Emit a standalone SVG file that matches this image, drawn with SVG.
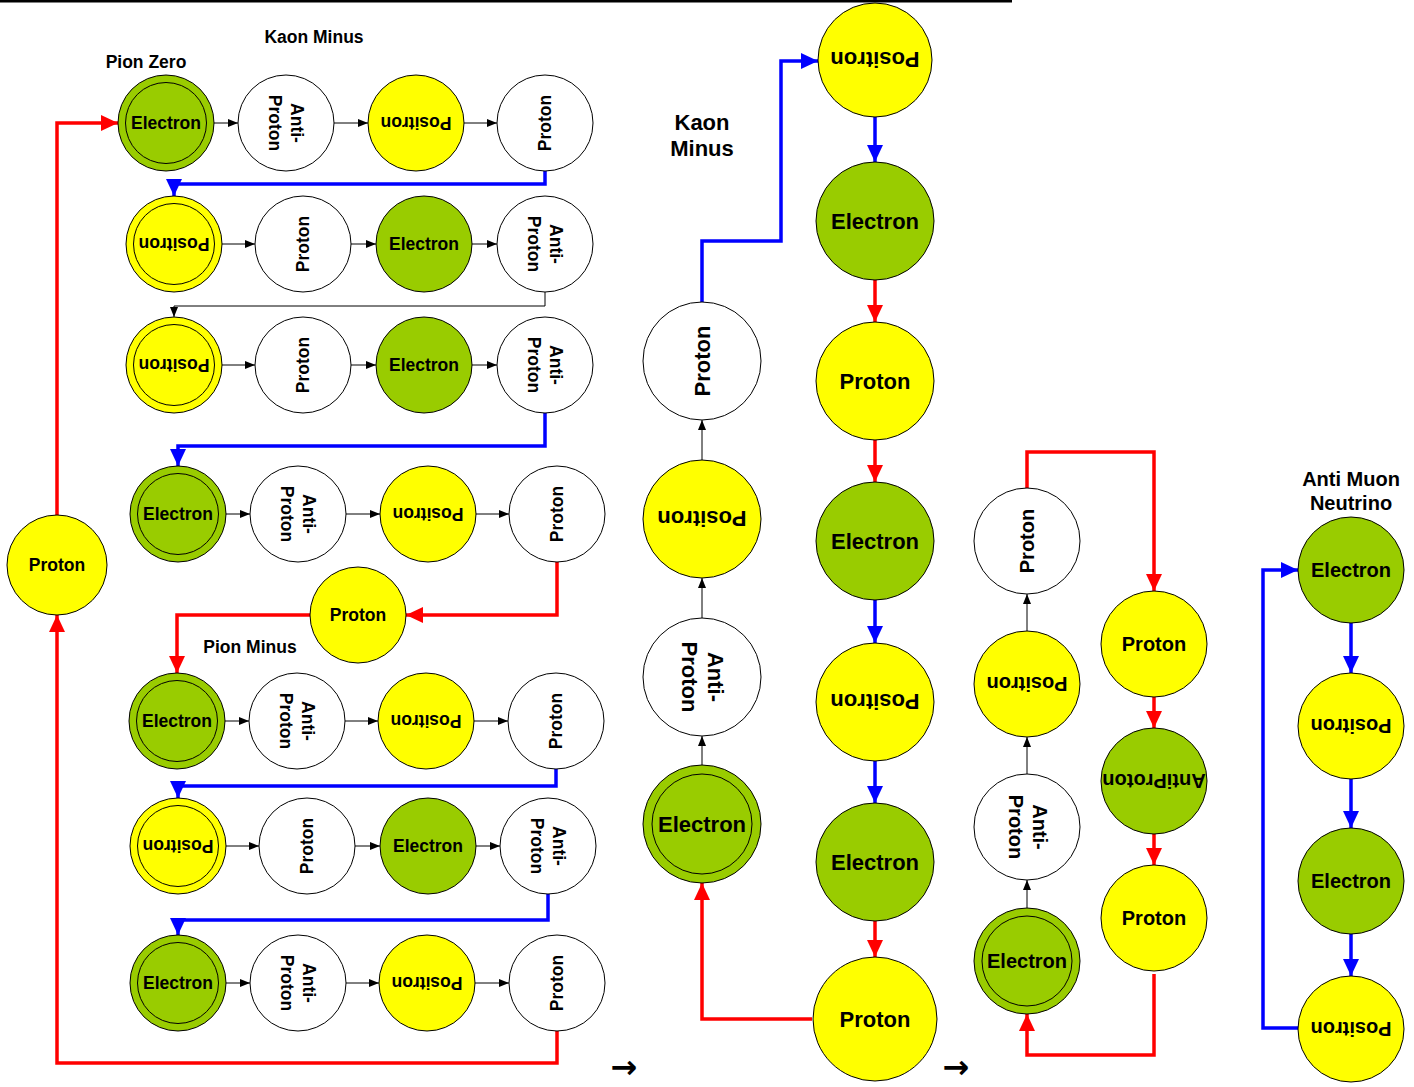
<svg xmlns="http://www.w3.org/2000/svg" width="1414" height="1087" viewBox="0 0 1414 1087">
<style>
text{font-family:"Liberation Sans",Arial,sans-serif;font-weight:bold;fill:#000;text-anchor:middle}
.g{fill:#99CC00;stroke:#000;stroke-width:1}
.y{fill:#FFFF00;stroke:#000;stroke-width:1}
.w{fill:#fff;stroke:#000;stroke-width:1}
.in{fill:none;stroke:#000;stroke-width:1}
.s{font-size:17.5px}
.m{font-size:20px}
.l{font-size:22px}
.ar{font-family:"DejaVu Sans",sans-serif;font-weight:bold;font-size:32px}
.k{fill:none;stroke:#000;stroke-width:1;marker-end:url(#ab)}
.r{fill:none;stroke:#FF0000;stroke-width:3.5;marker-end:url(#ar)}
.b{fill:none;stroke:#0000FF;stroke-width:3.5;marker-end:url(#au)}
</style>
<defs>
<marker id="ab" markerUnits="userSpaceOnUse" markerWidth="10" markerHeight="10" refX="10" refY="5" orient="auto"><path d="M0,1 L10,5 L0,9 z" fill="#000"/></marker>
<marker id="ar" markerUnits="userSpaceOnUse" markerWidth="17" markerHeight="16" refX="17" refY="8" orient="auto"><path d="M0,0 L17,8 L0,16 z" fill="#FF0000"/></marker>
<marker id="au" markerUnits="userSpaceOnUse" markerWidth="17" markerHeight="16" refX="17" refY="8" orient="auto"><path d="M0,0 L17,8 L0,16 z" fill="#0000FF"/></marker>
</defs>
<rect x="0" y="0" width="1012" height="2.5" fill="#000"/>

<g id="labels">
<text class="s" x="314" y="43">Kaon Minus</text>
<text class="s" x="146" y="68">Pion Zero</text>
<text class="s" x="250" y="653">Pion Minus</text>
<text class="l" x="702" y="130">Kaon</text>
<text class="l" x="702" y="156">Minus</text>
<text class="m" x="1351" y="486">Anti Muon</text>
<text class="m" x="1351" y="510">Neutrino</text>
<text class="ar" x="624" y="1078">→</text>
<text class="ar" x="956" y="1078">→</text>
</g>

<g id="connectors">
<path class="k" d="M214,123H238"/><path class="k" d="M334,123H368"/><path class="k" d="M464,123H497"/>
<path class="k" d="M222,244H255"/><path class="k" d="M351,244H376"/><path class="k" d="M472,244H497"/>
<path class="k" d="M222,365H255"/><path class="k" d="M351,365H376"/><path class="k" d="M472,365H497"/>
<path class="k" d="M226,514H250"/><path class="k" d="M346,514H380"/><path class="k" d="M476,514H509"/>
<path class="k" d="M225,721H249"/><path class="k" d="M345,721H378"/><path class="k" d="M474,721H508"/>
<path class="k" d="M226,846H259"/><path class="k" d="M355,846H380"/><path class="k" d="M476,846H500"/>
<path class="k" d="M226,983H250"/><path class="k" d="M346,983H379"/><path class="k" d="M475,983H509"/>
<path class="r" d="M57,515V123H118"/>
<path class="b" d="M545,171V184H174V196"/>
<path class="k" d="M545,292V306H174V317"/>
<path class="b" d="M545,413V446H178V466"/>
<path class="r" d="M557,562V615H406"/>
<path class="r" d="M310,615H177V673"/>
<path class="b" d="M556,769V786H178V798"/>
<path class="b" d="M548,894V920H178V935"/>
<path class="r" d="M557,1031V1063H57V615"/>
<path class="k" d="M702,766V736"/>
<path class="k" d="M702,618V578"/>
<path class="k" d="M702,460V420"/>
<path class="b" d="M702,302V241H781V61H818"/>
<path class="r" d="M812,1019H702V883"/>
<path class="b" d="M875,117V162"/>
<path class="r" d="M875,280V322"/>
<path class="r" d="M875,440V482"/>
<path class="b" d="M875,600V643"/>
<path class="b" d="M875,761V803"/>
<path class="r" d="M875,921V957"/>
<path class="k" d="M1027,908V880"/>
<path class="k" d="M1027,774V737"/>
<path class="k" d="M1027,631V594"/>
<path class="r" d="M1027,488V452H1154V591"/>
<path class="r" d="M1154,697V728"/>
<path class="r" d="M1154,834V865"/>
<path class="r" d="M1154,974V1055H1027V1014"/>
<path class="b" d="M1351,623V673"/>
<path class="b" d="M1351,779V828"/>
<path class="b" d="M1351,934V976"/>
<path class="b" d="M1298,1028H1263V570H1298"/>
</g>

<g id="r1a"><circle class="g" cx="166" cy="123" r="48"/><circle class="in" cx="166" cy="123" r="40.5"/><text class="s" x="166" y="129">Electron</text></g>
<g id="r1b"><circle class="w" cx="286" cy="123" r="48"/><text class="s" transform="translate(286,123) rotate(90)"><tspan x="0" y="-5">Anti-</tspan><tspan x="0" y="17">Proton</tspan></text></g>
<g id="r1c"><circle class="y" cx="416" cy="123" r="48"/><text class="s" transform="translate(416,123) rotate(180)" y="6">Positron</text></g>
<g id="r1d"><circle class="w" cx="545" cy="123" r="48"/><text class="s" transform="translate(545,123) rotate(-90)" y="6">Proton</text></g>
<g id="r2a"><circle class="y" cx="174" cy="244" r="48"/><circle class="in" cx="174" cy="244" r="40.5"/><text class="s" transform="translate(174,244) rotate(180)" y="6">Positron</text></g>
<g id="r2b"><circle class="w" cx="303" cy="244" r="48"/><text class="s" transform="translate(303,244) rotate(-90)" y="6">Proton</text></g>
<g id="r2c"><circle class="g" cx="424" cy="244" r="48"/><text class="s" x="424" y="250">Electron</text></g>
<g id="r2d"><circle class="w" cx="545" cy="244" r="48"/><text class="s" transform="translate(545,244) rotate(90)"><tspan x="0" y="-5">Anti-</tspan><tspan x="0" y="17">Proton</tspan></text></g>
<g id="r3a"><circle class="y" cx="174" cy="365" r="48"/><circle class="in" cx="174" cy="365" r="40.5"/><text class="s" transform="translate(174,365) rotate(180)" y="6">Positron</text></g>
<g id="r3b"><circle class="w" cx="303" cy="365" r="48"/><text class="s" transform="translate(303,365) rotate(-90)" y="6">Proton</text></g>
<g id="r3c"><circle class="g" cx="424" cy="365" r="48"/><text class="s" x="424" y="371">Electron</text></g>
<g id="r3d"><circle class="w" cx="545" cy="365" r="48"/><text class="s" transform="translate(545,365) rotate(90)"><tspan x="0" y="-5">Anti-</tspan><tspan x="0" y="17">Proton</tspan></text></g>
<g id="r4a"><circle class="g" cx="178" cy="514" r="48"/><circle class="in" cx="178" cy="514" r="40.5"/><text class="s" x="178" y="520">Electron</text></g>
<g id="r4b"><circle class="w" cx="298" cy="514" r="48"/><text class="s" transform="translate(298,514) rotate(90)"><tspan x="0" y="-5">Anti-</tspan><tspan x="0" y="17">Proton</tspan></text></g>
<g id="r4c"><circle class="y" cx="428" cy="514" r="48"/><text class="s" transform="translate(428,514) rotate(180)" y="6">Positron</text></g>
<g id="r4d"><circle class="w" cx="557" cy="514" r="48"/><text class="s" transform="translate(557,514) rotate(-90)" y="6">Proton</text></g>
<g id="pmid"><circle class="y" cx="358" cy="615" r="48"/><text class="s" x="358" y="621">Proton</text></g>
<g id="pleft"><circle class="y" cx="57" cy="565" r="50"/><text class="s" x="57" y="571">Proton</text></g>
<g id="r5a"><circle class="g" cx="177" cy="721" r="48"/><circle class="in" cx="177" cy="721" r="40.5"/><text class="s" x="177" y="727">Electron</text></g>
<g id="r5b"><circle class="w" cx="297" cy="721" r="48"/><text class="s" transform="translate(297,721) rotate(90)"><tspan x="0" y="-5">Anti-</tspan><tspan x="0" y="17">Proton</tspan></text></g>
<g id="r5c"><circle class="y" cx="426" cy="721" r="48"/><text class="s" transform="translate(426,721) rotate(180)" y="6">Positron</text></g>
<g id="r5d"><circle class="w" cx="556" cy="721" r="48"/><text class="s" transform="translate(556,721) rotate(-90)" y="6">Proton</text></g>
<g id="r6a"><circle class="y" cx="178" cy="846" r="48"/><circle class="in" cx="178" cy="846" r="40.5"/><text class="s" transform="translate(178,846) rotate(180)" y="6">Positron</text></g>
<g id="r6b"><circle class="w" cx="307" cy="846" r="48"/><text class="s" transform="translate(307,846) rotate(-90)" y="6">Proton</text></g>
<g id="r6c"><circle class="g" cx="428" cy="846" r="48"/><text class="s" x="428" y="852">Electron</text></g>
<g id="r6d"><circle class="w" cx="548" cy="846" r="48"/><text class="s" transform="translate(548,846) rotate(90)"><tspan x="0" y="-5">Anti-</tspan><tspan x="0" y="17">Proton</tspan></text></g>
<g id="r7a"><circle class="g" cx="178" cy="983" r="48"/><circle class="in" cx="178" cy="983" r="40.5"/><text class="s" x="178" y="989">Electron</text></g>
<g id="r7b"><circle class="w" cx="298" cy="983" r="48"/><text class="s" transform="translate(298,983) rotate(90)"><tspan x="0" y="-5">Anti-</tspan><tspan x="0" y="17">Proton</tspan></text></g>
<g id="r7c"><circle class="y" cx="427" cy="983" r="48"/><text class="s" transform="translate(427,983) rotate(180)" y="6">Positron</text></g>
<g id="r7d"><circle class="w" cx="557" cy="983" r="48"/><text class="s" transform="translate(557,983) rotate(-90)" y="6">Proton</text></g>

<g id="a1"><circle class="g" cx="702" cy="824" r="59"/><circle class="in" cx="702" cy="824" r="50"/><text class="l" x="702" y="832">Electron</text></g>
<g id="a2"><circle class="w" cx="702" cy="677" r="59"/><text class="l" transform="translate(702,677) rotate(90)"><tspan x="0" y="-6">Anti-</tspan><tspan x="0" y="20">Proton</tspan></text></g>
<g id="a3"><circle class="y" cx="702" cy="519" r="59"/><text class="l" transform="translate(702,519) rotate(180)" y="8">Positron</text></g>
<g id="a4"><circle class="w" cx="702" cy="361" r="59"/><text class="l" transform="translate(702,361) rotate(-90)" y="8">Proton</text></g>

<g id="b1"><circle class="y" cx="875" cy="60" r="57"/><text class="l" transform="translate(875,60) rotate(180)" y="8">Positron</text></g>
<g id="b2"><circle class="g" cx="875" cy="221" r="59"/><text class="l" x="875" y="229">Electron</text></g>
<g id="b3"><circle class="y" cx="875" cy="381" r="59"/><text class="l" x="875" y="389">Proton</text></g>
<g id="b4"><circle class="g" cx="875" cy="541" r="59"/><text class="l" x="875" y="549">Electron</text></g>
<g id="b5"><circle class="y" cx="875" cy="702" r="59"/><text class="l" transform="translate(875,702) rotate(180)" y="8">Positron</text></g>
<g id="b6"><circle class="g" cx="875" cy="862" r="59"/><text class="l" x="875" y="870">Electron</text></g>
<g id="b7"><circle class="y" cx="875" cy="1019" r="62"/><text class="l" x="875" y="1027">Proton</text></g>

<g id="c1"><circle class="g" cx="1027" cy="961" r="53"/><circle class="in" cx="1027" cy="961" r="45"/><text class="m" x="1027" y="968">Electron</text></g>
<g id="c2"><circle class="w" cx="1027" cy="827" r="53"/><text class="m" transform="translate(1027,827) rotate(90)"><tspan x="0" y="-6">Anti-</tspan><tspan x="0" y="18">Proton</tspan></text></g>
<g id="c3"><circle class="y" cx="1027" cy="684" r="53"/><text class="m" transform="translate(1027,684) rotate(180)" y="7">Positron</text></g>
<g id="c4"><circle class="w" cx="1027" cy="541" r="53"/><text class="m" transform="translate(1027,541) rotate(-90)" y="7">Proton</text></g>

<g id="d1"><circle class="y" cx="1154" cy="644" r="53"/><text class="m" x="1154" y="651">Proton</text></g>
<g id="d2"><circle class="g" cx="1154" cy="781" r="53"/><text class="m" transform="translate(1154,781) rotate(180)" y="7">AntiProton</text></g>
<g id="d3"><circle class="y" cx="1154" cy="918" r="53"/><text class="m" x="1154" y="925">Proton</text></g>

<g id="e1"><circle class="g" cx="1351" cy="570" r="53"/><text class="m" x="1351" y="577">Electron</text></g>
<g id="e2"><circle class="y" cx="1351" cy="726" r="53"/><text class="m" transform="translate(1351,726) rotate(180)" y="7">Positron</text></g>
<g id="e3"><circle class="g" cx="1351" cy="881" r="53"/><text class="m" x="1351" y="888">Electron</text></g>
<g id="e4"><circle class="y" cx="1351" cy="1029" r="53"/><text class="m" transform="translate(1351,1029) rotate(180)" y="7">Positron</text></g>
</svg>
